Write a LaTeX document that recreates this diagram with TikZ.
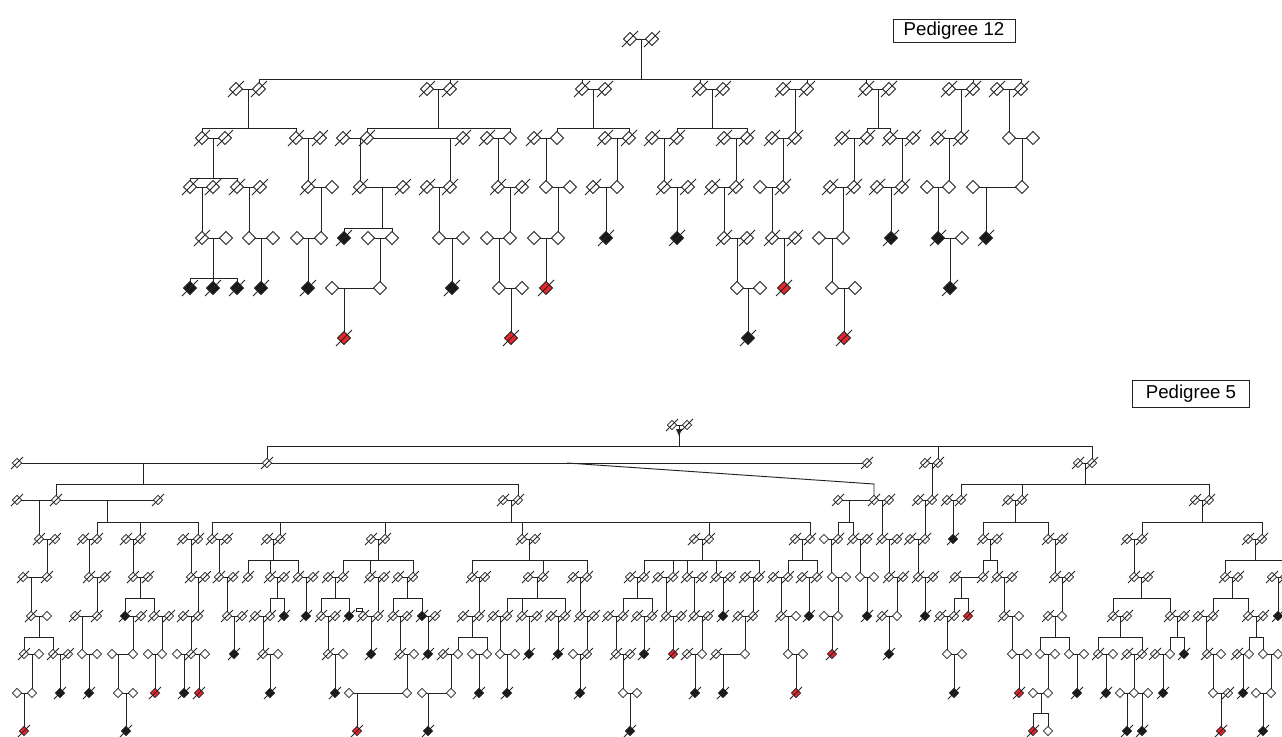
\documentclass[tikz,border=0pt]{standalone}
\usepackage{fontspec}
\setmainfont{Liberation Sans}
\definecolor{lncol}{RGB}{35,35,35}
\definecolor{symred}{RGB}{232,38,43}
\definecolor{symblack}{RGB}{25,25,25}
\tikzset{
  ln/.style={draw=lncol,line width=0.7pt},
  sym/.style={draw=lncol,line width=0.6pt},
  lab/.style={draw=lncol,line width=0.7pt,font=\fontsize{14}{16}\selectfont,inner sep=0pt}
}
\def\dhs{6.5}\def\dsl{8}
\newcommand\lnH[3]{\draw[ln] (#1,#3) -- (#2,#3);}
\newcommand\lnV[3]{\draw[ln] (#1,#2) -- (#1,#3);}
\newcommand\tk[3]{\foreach \tkx in {#1}{\draw[ln] (\tkx,#2) -- (\tkx,#3);}}
\newcommand\symDia[3]{\draw[sym,fill=#3] ({#1-\dhs},#2) -- (#1,{#2-\dhs}) -- ({#1+\dhs},#2) -- (#1,{#2+\dhs}) -- cycle;}
\newcommand\symSl[2]{\draw[sym] ({#1-\dsl},{#2+\dsl}) -- ({#1+\dsl},{#2-\dsl});}
\newcommand\rowO[2]{\foreach \xx in {#1}{\symDia{\xx}{#2}{white}}}
\newcommand\rowD[2]{\foreach \xx in {#1}{\symDia{\xx}{#2}{white}\symSl{\xx}{#2}}}
\newcommand\rowB[2]{\foreach \xx in {#1}{\symDia{\xx}{#2}{symblack}\symSl{\xx}{#2}}}
\newcommand\rowR[2]{\foreach \xx in {#1}{\symDia{\xx}{#2}{symred}\symSl{\xx}{#2}}}
\begin{document}
\begin{tikzpicture}[x=0.75pt,y=-0.75pt]
\useasboundingbox (0,0) rectangle (1282,736);
% ================= Pedigree 12 =================
\node[lab,minimum width=91.5pt,minimum height=17.5pt] (p12) at (954,31) {Pedigree 12};
\def\dhs{6.5}\def\dsl{8}
% lines
\lnH{630}{652}{39} \lnV{641}{39}{79} \lnH{259}{1021}{79}
\tk{259,450,582,700,807,866,973,1021}{79}{89}
\lnH{236}{259}{89} \lnH{427}{450}{89} \lnH{582}{605}{89} \lnH{700}{723}{89}
\lnH{783}{807}{89} \lnH{866}{889}{89} \lnH{949}{973}{89} \lnH{997}{1021}{89}
\lnV{248}{89}{128} \lnH{202}{296}{128} \tk{202,296}{128}{138}
\lnV{438}{89}{128} \lnH{367}{510}{128} \tk{367,510}{128}{138}
\lnV{593}{89}{128} \lnH{557}{629}{128} \tk{557,629}{128}{138}
\lnV{712}{89}{128} \lnH{677}{747}{128} \tk{677,747}{128}{138}
\lnV{795}{89}{138}
\lnV{878}{89}{128} \lnH{867}{890}{128} \tk{867,890}{128}{138}
\lnV{961}{89}{138}
\lnV{1009}{89}{138}
\lnH{202}{225}{138} \lnH{296}{320}{138} \lnH{343}{463}{138} \lnH{487}{510}{138}
\lnH{534}{557}{138} \lnH{605}{629}{138} \lnH{652}{677}{138} \lnH{724}{747}{138}
\lnH{772}{795}{138} \lnH{842}{867}{138} \lnH{890}{913}{138} \lnH{938}{961}{138}
\lnH{1009}{1033}{138}
\lnV{213}{138}{178} \lnH{190}{237}{178} \tk{190,237}{178}{187}
\lnV{308}{138}{187} \lnV{360}{138}{187} \lnV{450}{138}{187} \lnV{498}{138}{187}
\lnV{546}{138}{187} \lnV{617}{138}{187} \lnV{664}{138}{187} \lnV{736}{138}{187}
\lnV{783}{138}{187} \lnV{854}{138}{187} \lnV{902}{138}{187} \lnV{949}{138}{187}
\lnV{1022}{138}{187}
\lnH{190}{213}{187} \lnH{237}{260}{187} \lnH{308}{332}{187} \lnH{360}{403}{187}
\lnH{427}{450}{187} \lnH{498}{522}{187} \lnH{546}{570}{187} \lnH{593}{617}{187}
\lnH{664}{688}{187} \lnH{712}{736}{187} \lnH{760}{783}{187} \lnH{830}{854}{187}
\lnH{877}{902}{187} \lnH{927}{949}{187} \lnH{973}{1022}{187}
\lnV{202}{187}{238} \lnV{249}{187}{238} \lnV{321}{187}{238}
\lnV{382}{187}{228} \lnH{344}{392}{228} \tk{344,392}{228}{238}
\lnV{439}{187}{238} \lnV{510}{187}{238} \lnV{558}{187}{238} \lnV{606}{187}{238}
\lnV{677}{187}{238} \lnV{724}{187}{238} \lnV{772}{187}{238} \lnV{843}{187}{238}
\lnV{891}{187}{238} \lnV{938}{187}{238} \lnV{986}{187}{238}
\lnH{202}{226}{238} \lnH{249}{273}{238} \lnH{297}{321}{238} \lnH{368}{392}{238}
\lnH{439}{463}{238} \lnH{487}{510}{238} \lnH{534}{558}{238} \lnH{724}{747}{238}
\lnH{772}{795}{238} \lnH{819}{843}{238} \lnH{938}{962}{238}
\lnV{213}{238}{278} \lnH{190}{237}{278} \tk{190,213,237}{278}{288}
\lnV{261}{238}{288} \lnV{308}{238}{288} \lnV{380}{238}{288} \lnV{452}{238}{288}
\lnV{499}{238}{288} \lnV{546}{238}{288} \lnV{737}{238}{288} \lnV{784}{238}{288}
\lnV{832}{238}{288} \lnV{950}{238}{288}
\lnH{332}{380}{288} \lnH{499}{522}{288} \lnH{737}{760}{288} \lnH{832}{855}{288}
\lnV{344}{288}{338} \lnV{511}{288}{338} \lnV{748}{288}{338} \lnV{844}{288}{338}
% symbols
\rowD{630,652}{39}
\rowD{236,259,427,450,582,605,700,723,783,807,866,889,949,973,997,1021}{89}
\rowD{202,225,296,320,343,367,463,487,534,605,629,652,677,724,747,772,795,842,867,890,913,938,961}{138}
\rowO{510,557,1009,1033}{138}
\rowD{190,213,237,260,308,360,403,427,450,498,522,593,664,688,712,736,783,830,854,877,902}{187}
\rowO{332,546,570,617,760,927,949,973,1022}{187}
\rowD{202,724,747,772,795}{238}
\rowO{226,249,273,297,321,368,392,439,463,487,510,534,558,819,843,962}{238}
\rowB{344,606,677,891,938,986}{238}
\rowB{190,213,237,261,308,452,950}{288}
\rowO{332,380,499,522,737,760,832,855}{288}
\rowR{546,784}{288}
\rowR{344,511,844}{338}
\rowB{748}{338}
% ================= Pedigree 5 =================
\node[lab,minimum width=88pt,minimum height=20pt] (p5) at (1191,394) {Pedigree 5};
\def\dhs{4.6}\def\dsl{6}
\lnH{672}{687}{425} \lnV{679}{425}{446} \lnH{267}{1092}{446} \tk{267,938,1092}{446}{463}
\fill[lncol] (676,429) -- (682,429) -- (679,436) -- cycle;
\lnH{17}{867}{463} \lnH{925}{938}{463} \lnH{1078}{1092}{463}
\lnV{143}{463}{484} \lnH{56}{518}{484} \tk{56,518}{484}{500}
\draw[ln] (567,463) -- (874,484) -- (874,500);
\lnV{932}{463}{500}
\lnV{1085}{463}{484} \lnH{961}{1209}{484} \tk{961,1022,1209}{484}{500}
\lnH{17}{158}{500} \lnH{503}{518}{500} \lnH{838}{889}{500} \lnH{918}{932}{500}
\lnH{947}{961}{500} \lnH{1008}{1022}{500} \lnH{1195}{1209}{500}
\lnV{39}{500}{539}
\lnV{107}{500}{522} \lnH{97}{198}{522} \tk{97,140,198}{522}{539}
\lnV{511}{500}{522} \lnH{212}{810}{522} \tk{212,280,385,522,709,810}{522}{539}
\lnV{849}{500}{522} \lnH{838}{853}{522} \tk{838,853}{522}{539}
\lnV{882}{500}{539} \lnV{925}{500}{539} \lnV{953}{500}{539}
\lnV{1015}{500}{522} \lnH{983}{1048}{522} \tk{983,1048}{522}{539}
\lnV{1202}{500}{522} \lnH{1142}{1262}{522} \tk{1142,1262}{522}{539}
\lnH{39}{55}{539} \lnH{83}{97}{539} \lnH{126}{140}{539} \lnH{183}{198}{539}
\lnH{212}{227}{539} \lnH{267}{280}{539} \lnH{371}{385}{539} \lnH{522}{535}{539}
\lnH{694}{709}{539} \lnH{795}{810}{539} \lnH{824}{838}{539} \lnH{853}{867}{539}
\lnH{882}{897}{539} \lnH{910}{925}{539} \lnH{983}{997}{539} \lnH{1048}{1062}{539}
\lnH{1127}{1142}{539} \lnH{1248}{1262}{539}
\lnV{47}{539}{577} \lnV{89}{539}{577} \lnV{133}{539}{577} \lnV{191}{539}{577} \lnV{219}{539}{577}
\lnV{273}{539}{560} \lnH{248}{298}{560} \tk{248,270,298}{560}{577}
\lnV{378}{539}{560} \lnH{343}{413}{560} \tk{343,370,413}{560}{577}
\lnV{529}{539}{560} \lnH{472}{587}{560} \tk{472,543,587}{560}{577}
\lnV{702}{539}{560} \lnH{644}{759}{560} \tk{644,673,687,716,759}{560}{577}
\lnV{802}{539}{560} \lnH{788}{817}{560} \tk{788,817}{560}{577}
\lnV{831}{539}{577} \lnV{860}{539}{577} \lnV{889}{539}{577} \lnV{918}{539}{577}
\lnV{990}{539}{560} \lnH{983}{997}{560} \tk{983,997}{560}{577}
\lnV{1055}{539}{577} \lnV{1134}{539}{577}
\lnV{1255}{539}{560} \lnH{1225}{1285}{560} \tk{1225,1285}{560}{577}
\lnH{23}{47}{577} \lnH{89}{105}{577} \lnH{133}{148}{577} \lnH{191}{205}{577}
\lnH{219}{233}{577} \lnH{270}{284}{577} \lnH{298}{313}{577} \lnH{328}{343}{577}
\lnH{370}{384}{577} \lnH{398}{413}{577} \lnH{472}{485}{577} \lnH{528}{543}{577}
\lnH{573}{587}{577} \lnH{630}{644}{577} \lnH{658}{673}{577} \lnH{687}{702}{577}
\lnH{716}{730}{577} \lnH{745}{759}{577} \lnH{773}{788}{577} \lnH{802}{817}{577}
\lnH{832}{846}{577} \lnH{860}{874}{577} \lnH{889}{903}{577} \lnH{918}{933}{577}
\lnH{955}{983}{577} \lnH{997}{1012}{577} \lnH{1055}{1069}{577} \lnH{1134}{1148}{577}
\lnH{1225}{1238}{577} \lnH{1272}{1285}{577}
\lnV{31}{577}{616} \lnV{97}{577}{616}
\lnV{140}{577}{598} \lnH{125}{154}{598} \tk{125,154}{598}{616}
\lnV{198}{577}{616} \lnV{227}{577}{616}
\lnV{277}{577}{598} \lnH{270}{284}{598} \tk{270,284}{598}{616}
\lnV{306}{577}{616}
\lnV{335}{577}{598} \lnH{321}{349}{598} \tk{321,349}{598}{616}
\lnV{378}{577}{616}
\lnV{407}{577}{598} \lnH{393}{422}{598} \tk{393,422}{598}{616}
\lnV{479}{577}{616}
\lnV{537}{577}{598} \lnH{507}{565}{598} \tk{507,522,565}{598}{616}
\lnV{580}{577}{616}
\lnV{637}{577}{598} \lnH{623}{652}{598} \tk{623,652}{598}{616}
\lnV{666}{577}{616} \lnV{694}{577}{616} \lnV{723}{577}{616} \lnV{753}{577}{616}
\lnV{781}{577}{616} \lnV{809}{577}{616} \lnV{838}{577}{616} \lnV{867}{577}{616}
\lnV{897}{577}{616} \lnV{925}{577}{616}
\lnV{961}{577}{598} \lnH{954}{968}{598} \tk{954,968}{598}{616}
\lnV{1004}{577}{616} \lnV{1062}{577}{616}
\lnV{1141}{577}{598} \lnH{1113}{1170}{598} \tk{1113,1170}{598}{616}
\lnV{1232}{577}{598} \lnH{1213}{1248}{598} \tk{1213,1248}{598}{616}
\lnV{1278}{577}{616}
\lnH{31}{47}{616} \lnH{75}{97}{616} \lnH{125}{141}{616} \lnH{154}{169}{616}
\lnH{183}{198}{616} \lnH{227}{242}{616} \lnH{255}{270}{616} \lnH{321}{335}{616}
\lnH{363}{378}{616} \lnH{393}{407}{616} \lnH{422}{435}{616} \lnH{463}{479}{616}
\lnH{493}{507}{616} \lnH{522}{537}{616} \lnH{551}{565}{616} \lnH{580}{594}{616}
\lnH{608}{623}{616} \lnH{637}{652}{616} \lnH{666}{681}{616} \lnH{694}{708}{616}
\lnH{738}{753}{616} \lnH{781}{796}{616} \lnH{824}{838}{616} \lnH{882}{897}{616}
\lnH{940}{954}{616} \lnH{1004}{1019}{616} \lnH{1048}{1062}{616} \lnH{1113}{1127}{616}
\lnH{1170}{1184}{616} \lnH{1198}{1213}{616} \lnH{1248}{1263}{616}
\lnV{39}{616}{637} \lnH{24}{53}{637} \tk{24,53}{637}{654}
\lnV{82}{616}{654} \lnV{133}{616}{654} \lnV{162}{616}{654} \lnV{191}{616}{654}
\lnV{234}{616}{654} \lnV{263}{616}{654} \lnV{328}{616}{654} \lnV{371}{616}{654}
\lnV{400}{616}{654} \lnV{428}{616}{654}
\lnV{472}{616}{637} \lnH{458}{487}{637} \tk{458,487}{637}{654}
\lnV{500}{616}{654} \lnV{529}{616}{654} \lnV{558}{616}{654} \lnV{587}{616}{654}
\lnV{616}{616}{654} \lnV{644}{616}{654} \lnV{673}{616}{654} \lnV{702}{616}{654}
\lnV{745}{616}{654} \lnV{788}{616}{654} \lnV{832}{616}{654} \lnV{889}{616}{654}
\lnV{947}{616}{654} \lnV{1012}{616}{654}
\lnV{1055}{616}{637} \lnH{1040}{1069}{637} \tk{1040,1069}{637}{654}
\lnV{1120}{616}{637} \lnH{1098}{1142}{637} \tk{1098,1142}{637}{654}
\lnV{1177}{616}{637} \lnH{1170}{1184}{637} \tk{1170,1184}{637}{654}
\lnV{1206}{616}{654}
\lnV{1256}{616}{637} \lnH{1249}{1263}{637} \tk{1249,1263}{637}{654}
\lnH{24}{39}{654} \lnH{53}{68}{654} \lnH{82}{97}{654} \lnH{112}{133}{654}
\lnH{148}{162}{654} \lnH{177}{205}{654} \lnH{263}{278}{654} \lnH{328}{343}{654}
\lnH{400}{414}{654} \lnH{443}{458}{654} \lnH{472}{487}{654} \lnH{500}{515}{654}
\lnH{573}{587}{654} \lnH{616}{630}{654} \lnH{687}{702}{654} \lnH{716}{745}{654}
\lnH{788}{803}{654} \lnH{947}{962}{654} \lnH{1012}{1027}{654} \lnH{1040}{1055}{654}
\lnH{1069}{1084}{654} \lnH{1098}{1113}{654} \lnH{1127}{1142}{654} \lnH{1155}{1170}{654}
\lnH{1207}{1221}{654} \lnH{1237}{1249}{654} \lnH{1263}{1278}{654}
\lnV{32}{654}{693} \lnV{60}{654}{693} \lnV{89}{654}{693} \lnV{118}{654}{693}
\lnV{155}{654}{693} \lnV{184}{654}{693} \lnV{199}{654}{693} \lnV{270}{654}{693}
\lnV{335}{654}{693} \lnV{407}{654}{693} \lnV{451}{654}{693} \lnV{479}{654}{693}
\lnV{507}{654}{693} \lnV{580}{654}{693} \lnV{623}{654}{693} \lnV{695}{654}{693}
\lnV{723}{654}{693} \lnV{796}{654}{693} \lnV{954}{654}{693} \lnV{1019}{654}{693}
\lnV{1048}{654}{693} \lnV{1077}{654}{693} \lnV{1106}{654}{693} \lnV{1134}{654}{693}
\lnV{1163}{654}{693} \lnV{1213}{654}{693} \lnV{1243}{654}{693} \lnV{1271}{654}{693}
\lnH{17}{32}{693} \lnH{118}{133}{693} \lnH{349}{407}{693} \lnH{422}{451}{693}
\lnH{623}{637}{693} \lnH{1033}{1048}{693} \lnH{1120}{1148}{693} \lnH{1213}{1228}{693}
\lnH{1256}{1271}{693}
\lnV{24}{693}{731} \lnV{126}{693}{731} \lnV{357}{693}{731} \lnV{428}{693}{731}
\lnV{630}{693}{731}
\lnV{1041}{693}{713} \lnH{1033}{1048}{713} \tk{1033,1048}{713}{731}
\lnV{1127}{693}{731} \lnV{1142}{693}{731} \lnV{1221}{693}{731} \lnV{1263}{693}{731}
% symbols
\rowD{672,687}{425}
\rowD{17,267,867,925,938,1078,1092}{463}
\rowD{17,56,158,503,518,838,874,889,918,932,947,961,1008,1022,1195,1209}{500}
\rowD{39,55,83,97,126,140,183,198,212,227,267,280,371,385,522,535,694,709,795,810,838,853,867,882,897,910,925,983,997,1048,1062,1127,1142,1248,1262}{539}
\rowO{824}{539} \rowB{953}{539}
\rowD{23,47,89,105,133,148,191,205,219,233,248,270,284,298,313,328,343,370,384,398,413,472,485,528,543,573,587,630,644,658,673,687,702,716,730,745,759,773,788,802,817,889,903,918,933,955,983,997,1012,1055,1069,1134,1148,1225,1238,1272,1285}{577}
\rowO{832,846,860,874}{577}
\rowD{31,75,97,141,154,169,183,198,227,242,255,270,321,335,363,378,393,407,435,463,479,493,507,522,537,551,565,580,594,608,623,637,652,666,681,694,708,738,753,781,882,940,954,1004,1048,1113,1127,1170,1184,1198,1213,1248,1263}{616}
\rowO{47,796,824,838,897,1019,1062}{616}
\rowB{125,284,306,349,422,723,809,867,925,1278}{616}
\rowR{968}{616}
\draw[sym,fill=white] (356,608.5) rectangle (362,611.5);
\rowD{24,53,68,191,263,328,400,443,587,616,630,687,716,1098,1127,1142,1155,1207,1237}{654}
\rowO{39,82,97,112,133,148,162,177,205,278,343,414,458,472,487,500,515,573,702,745,788,803,947,962,1012,1027,1040,1055,1069,1084,1113,1170,1221,1249,1263,1278}{654}
\rowB{234,371,428,529,558,644,889,1184}{654}
\rowR{673,832}{654}
\rowO{17,32,118,133,349,407,422,451,623,637,1033,1048,1120,1134,1148,1213,1256,1271}{693}
\rowD{1228}{693}
\rowB{60,89,184,270,335,479,507,580,695,723,954,1077,1106,1163,1243}{693}
\rowR{155,199,796,1019}{693}
\rowR{24,357,1033,1221}{731}
\rowB{126,428,630,1127,1142,1263}{731}
\rowO{1048}{731}
\end{tikzpicture}
\end{document}
